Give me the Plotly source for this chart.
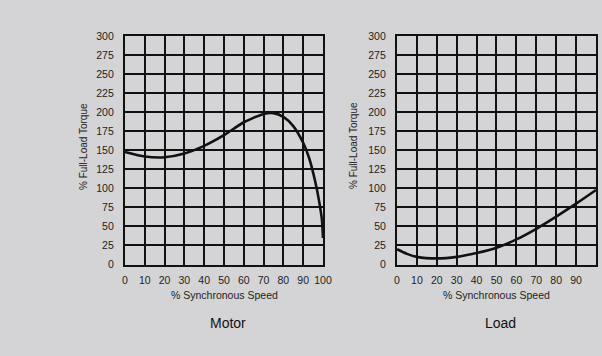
import plotly.graph_objects as go

# Data
motor_speed = [0, 10, 20, 30, 40, 50, 60, 70, 75, 80, 85, 90, 93, 96, 98, 99.5, 100]
motor_torque = [148, 142, 141, 146, 156, 170, 187, 198, 199, 194, 182, 160, 140, 110, 84, 58, 35]

load_speed = [0, 5, 10, 20, 30, 40, 50, 60, 70, 80, 90, 100]
load_torque = [20, 14, 10, 8, 10, 15, 22, 33, 47, 63, 80, 98]

x_ticks = [0, 10, 20, 30, 40, 50, 60, 70, 80, 90, 100]
y_ticks = [0, 25, 50, 75, 100, 125, 150, 175, 200, 225, 250, 275, 300]

x_title = "% Synchronous Speed"
y_title = "% Full-Load Torque"
panel_labels = ["Motor", "Load"]

BG = "#d4d4d6"
INK = "#111111"
FONT = "Liberation Sans, Arial, sans-serif"

fig = go.Figure()
fig.add_trace(go.Scatter(x=motor_speed, y=motor_torque, mode="lines",
                         line=dict(color=INK, width=2.6, shape="spline", smoothing=0.6),
                         xaxis="x", yaxis="y", showlegend=False, hoverinfo="skip"))
fig.add_trace(go.Scatter(x=load_speed, y=load_torque, mode="lines",
                         line=dict(color=INK, width=2.6, shape="spline", smoothing=0.8),
                         xaxis="x2", yaxis="y2", showlegend=False, hoverinfo="skip"))

def xa(domain, anchor):
    return dict(domain=domain, anchor=anchor, range=[0, 100], tickmode="array",
                tickvals=x_ticks, ticktext=[str(v) for v in x_ticks],
                showgrid=True, gridcolor=INK, gridwidth=1.8, zeroline=False,
                showline=True, linecolor=INK, linewidth=2.2, mirror=True,
                ticks="", ticklabelstandoff=5, automargin=False,
                tickfont=dict(family=FONT, size=10.5, color="#222"), fixedrange=True)

def ya(domain, anchor):
    return dict(domain=domain, anchor=anchor, range=[0, 300], tickmode="array",
                tickvals=y_ticks, ticktext=[str(v) for v in y_ticks],
                showgrid=True, gridcolor=INK, gridwidth=1.8, zeroline=False,
                showline=True, linecolor=INK, linewidth=2.2, mirror=True,
                ticks="", ticklabelstandoff=7, automargin=False,
                tickfont=dict(family=FONT, size=10.5, color="#222"), fixedrange=True)

ydom = [0.257, 0.898]
fig.update_layout(
    width=602, height=356,
    margin=dict(l=0, r=0, t=0, b=0, autoexpand=False),
    paper_bgcolor=BG, plot_bgcolor=BG,
    xaxis=xa([0.2076, 0.5365], "y"),
    yaxis=ya(ydom, "x"),
    xaxis2=xa([0.6595, 0.990], "y2"),
    yaxis2=ya(ydom, "x2"),
    font=dict(family=FONT, color="#222"),
)

ann = []
for cx in [(125 + 323) / 2 / 602, (397 + 596) / 2 / 602]:
    ann.append(dict(x=cx, y=1 - 295 / 356, xref="paper", yref="paper", text=x_title,
                    showarrow=False, font=dict(family=FONT, size=10.5, color="#222"),
                    xanchor="center", yanchor="middle"))
for cx, lab in [(228 / 602, panel_labels[0]), (500 / 602, panel_labels[1])]:
    ann.append(dict(x=cx, y=1 - 323 / 356, xref="paper", yref="paper", text=lab,
                    showarrow=False, font=dict(family=FONT, size=14, color="#111"),
                    xanchor="center", yanchor="middle"))
for cx in [83 / 602, 353 / 602]:
    ann.append(dict(x=cx, y=1 - 146 / 356, xref="paper", yref="paper", text=y_title,
                    showarrow=False, textangle=-90,
                    font=dict(family=FONT, size=10, color="#222"),
                    xanchor="center", yanchor="middle"))
fig.update_layout(annotations=ann)

fig.write_html("out.html", config={"displayModeBar": False},
               post_script="document.body.style.margin='0';document.body.style.padding='0';document.body.style.overflow='hidden';document.body.style.background='" + BG + "';")
